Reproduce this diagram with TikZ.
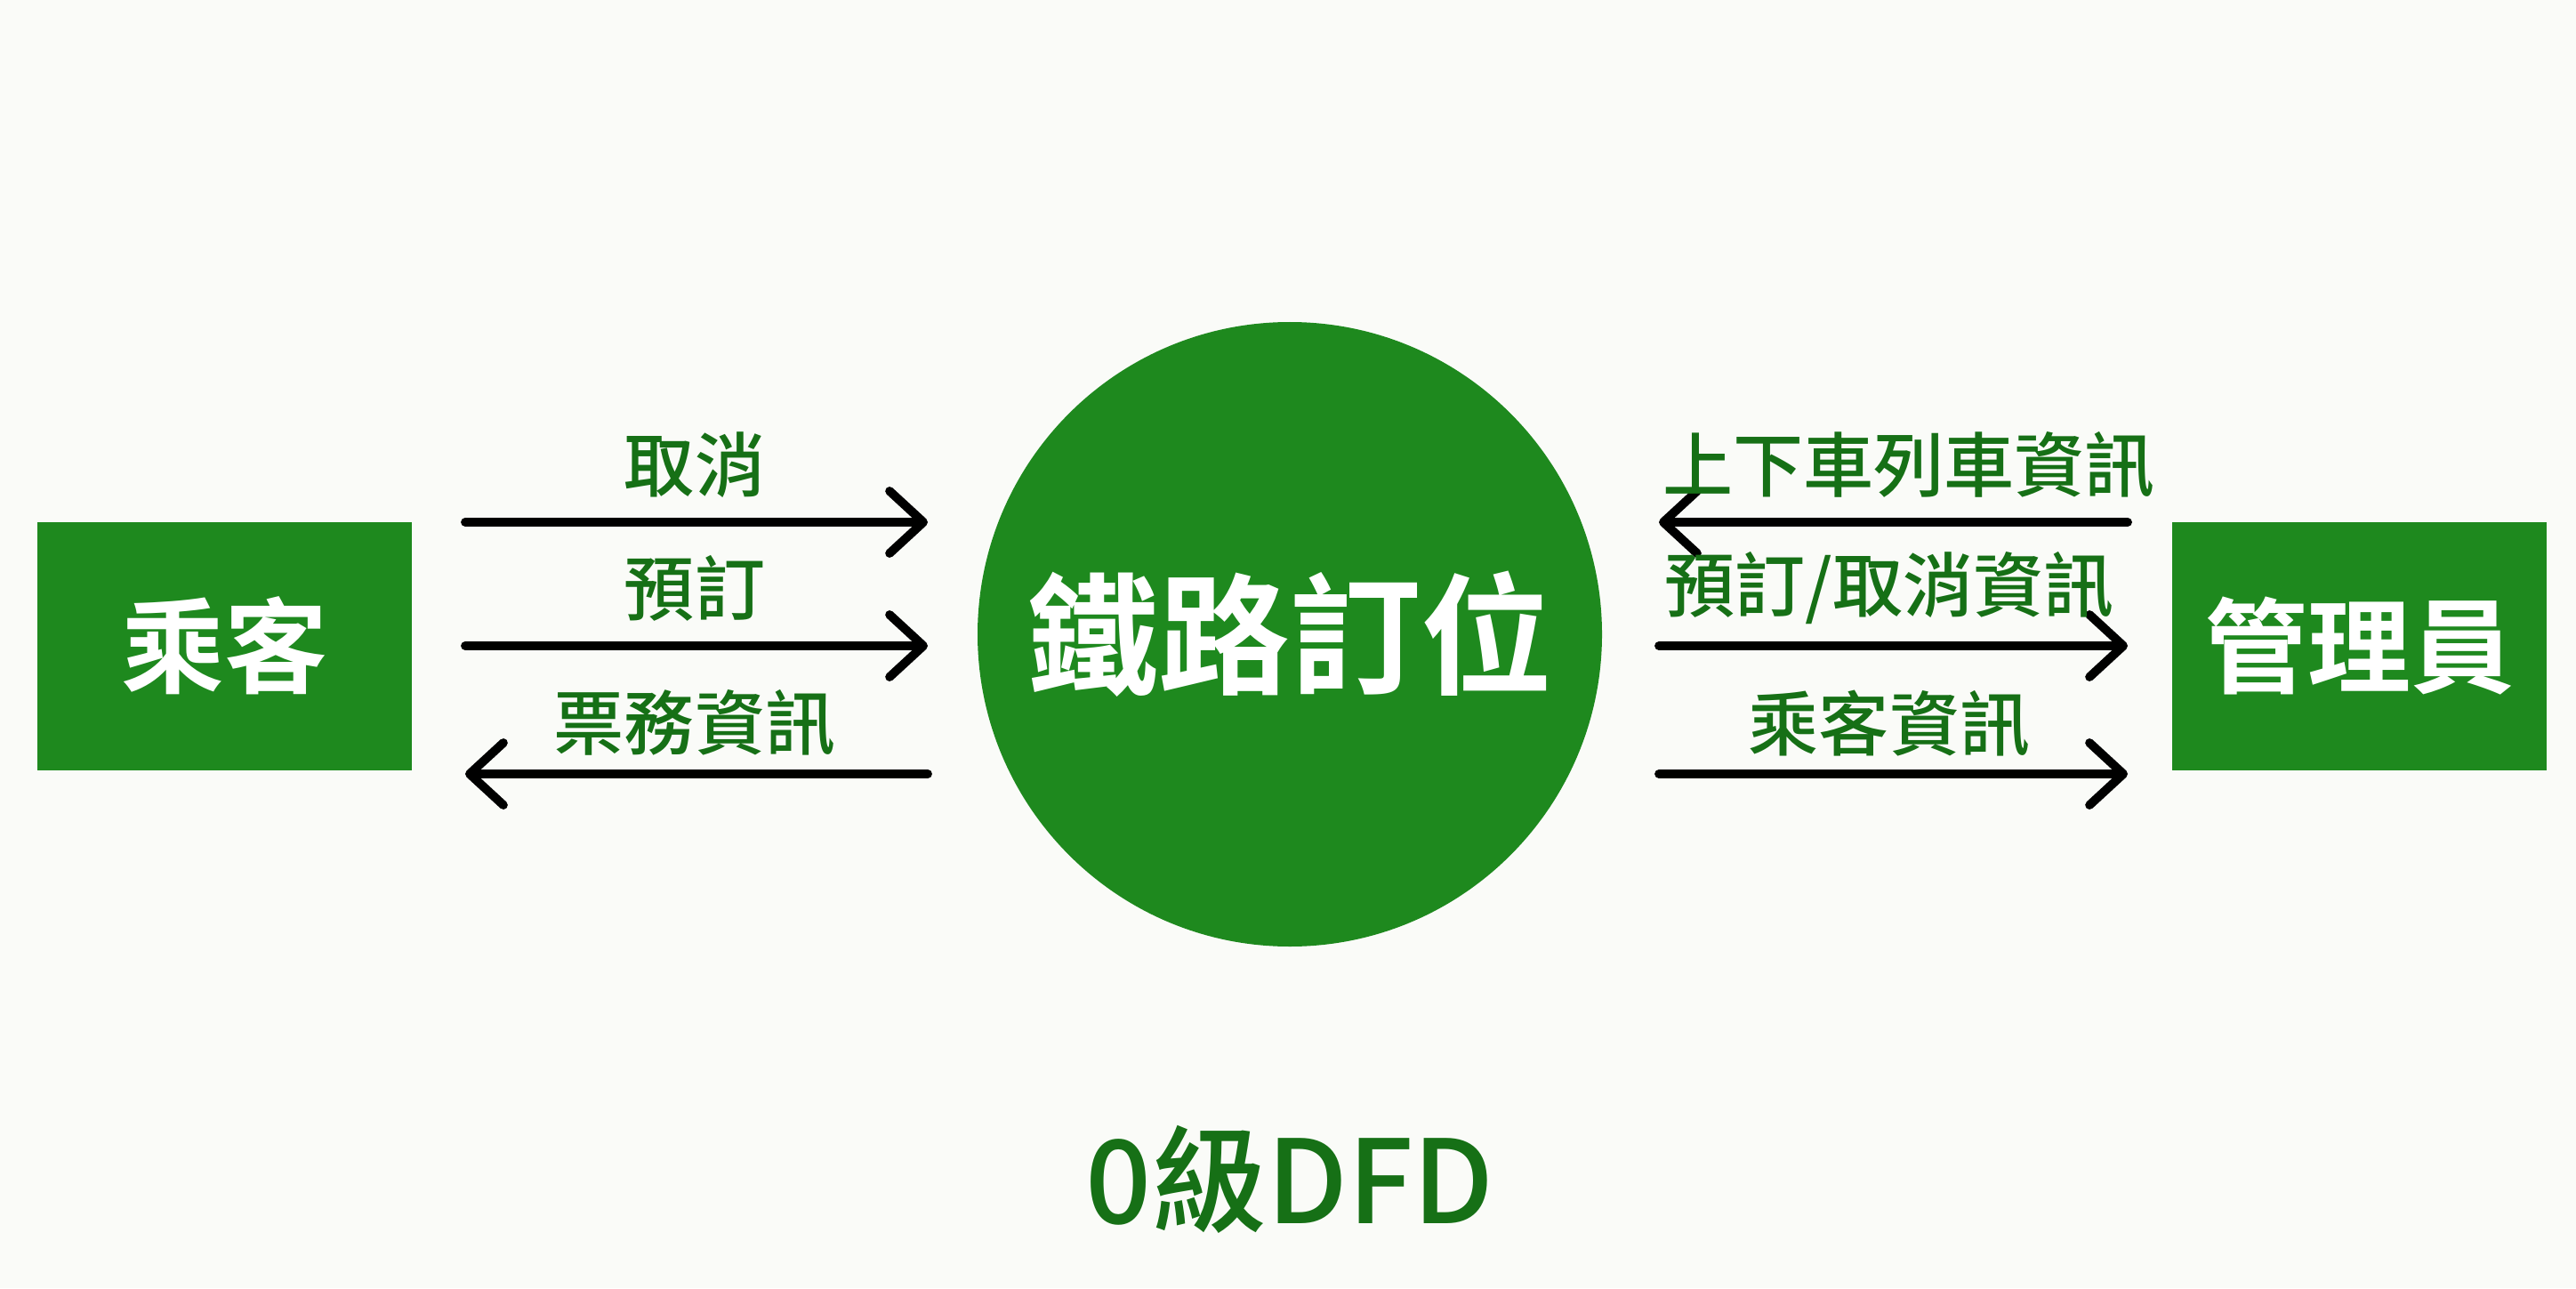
\documentclass[tikz,border=0pt]{standalone}
\usepackage{fontspec}
\usetikzlibrary{arrows.meta}
\newfontfamily\cjk{Noto Sans CJK TC}[UprightFont={* Medium}, BoldFont={* Bold}]
\definecolor{dfdgreen}{RGB}{30,137,30}
\definecolor{dfdtext}{RGB}{22,112,22}
\definecolor{dfdback}{RGB}{250,251,248}

\begin{document}
\begin{tikzpicture}[every node/.style={font=\cjk, inner sep=0pt},
  entity/.style={fill=dfdgreen, text=white, minimum width=4.21cm, minimum height=2.79cm, font=\cjk\bfseries\fontsize{33}{33}\selectfont},
  flow/.style={draw=black, line width=2.8pt, line cap=round, -{Straight Barb[length=0.38cm, width=0.7cm, line width=2.8pt, round]}},
  flowlabel/.style={text=dfdtext, font=\cjk\fontsize{22.5}{22.5}\selectfont}]
\fill[dfdback] (0,0) rectangle (28.96,14.48);
\useasboundingbox (0,0) rectangle (28.96,14.48);
% external entities and the process
\node[entity] (Passenger) at (2.52,7.22) {乘客};
\node[entity] (Admin) at (26.52,7.22) {管理員};
\node[circle, fill=dfdgreen, text=white, minimum size=7.02cm, font=\cjk\bfseries\fontsize{42}{42}\selectfont] (Booking) at (14.50,7.35) {鐵路訂位};
% flow end points
\coordinate (L1a) at (5.23,8.61); \coordinate (L1b) at (10.43,8.61);
\coordinate (L2a) at (5.23,7.22); \coordinate (L2b) at (10.43,7.22);
\coordinate (L3a) at (5.23,5.78); \coordinate (L3b) at (10.43,5.78);
\coordinate (R1a) at (18.65,8.61); \coordinate (R1b) at (23.92,8.61);
\coordinate (R2a) at (18.65,7.22); \coordinate (R2b) at (23.92,7.22);
\coordinate (R3a) at (18.65,5.78); \coordinate (R3b) at (23.92,5.78);
\draw[flow] (L1a) -- (L1b);
\draw[flow] (L2a) -- (L2b);
\draw[flow] (L3b) -- (L3a);
\draw[flow] (R1b) -- (R1a);
\draw[flow] (R2a) -- (R2b);
\draw[flow] (R3a) -- (R3b);
% flow labels
\node[flowlabel] (Cancel) at (7.81,9.25) {取消};
\node[flowlabel] (Reserve) at (7.81,7.87) {預訂};
\node[flowlabel] (TicketInfo) at (7.81,6.35) {票務資訊};
\node[flowlabel] (TrainInfo) at (21.46,9.25) {上下車列車資訊};
\node[flowlabel] (OrderInfo) at (21.24,7.87) {預訂/取消資訊};
\node[flowlabel] (PassengerInfo) at (21.24,6.35) {乘客資訊};
\node[text=dfdtext, font=\cjk\fontsize{37}{37}\selectfont] (Title) at (14.50,1.22) {0級DFD};
\end{tikzpicture}
\end{document}
